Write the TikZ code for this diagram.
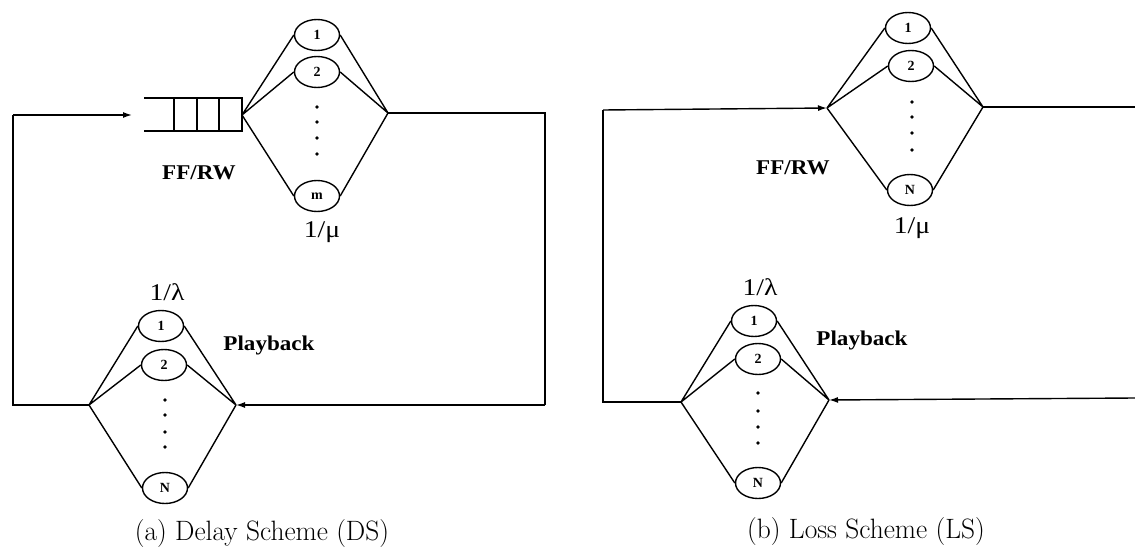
\documentclass[tikz,border=0pt]{standalone}
\usepackage{fontspec}
\usepackage{graphicx}
\setmainfont{Latin Modern Roman}
\newfontfamily\timesfont{Liberation Serif}
\usetikzlibrary{shapes.geometric,arrows.meta}
\begin{document}
\begin{tikzpicture}[x=1pt,y=-1pt,
  line width=1.4pt,
  srv/.style={ellipse,draw,minimum width=45pt,minimum height=31pt,inner sep=0pt,
    font=\timesfont\bfseries\fontsize{14}{14}\selectfont},
  lbl/.style={inner sep=0pt,font=\timesfont\bfseries\fontsize{21}{21}\selectfont},
  rate/.style={inner sep=0pt,font=\timesfont\fontsize{24}{24}\selectfont},
  capt/.style={inner sep=0pt,font=\fontsize{28}{28}\selectfont},
  arr/.style={-{Latex[length=9pt,width=6pt]}},
  dotc/.style={radius=1.8pt}
]
\useasboundingbox (0,0) rectangle (1135,551);

% ================= (a) Delay Scheme =================
% queue
\draw (144,98) -- (242,98) -- (242,131) -- (144,131);
\draw (174,98) -- (174,131) (197,98) -- (197,131) (219,98) -- (219,131);
\coordinate (aq) at (242,115);
\coordinate (ain) at (132,115);
% FF/RW servers
\node[srv] (a1) at (317,35) {1};
\node[srv] (a2) at (317,72) {2};
\node[srv] (am) at (317,196) {m};
\foreach \y in {107,122,138,154} \fill (317,\y) circle[dotc];
\coordinate (aR) at (388,113);
\draw (aq) -- (a1.west) (aq) -- (a2.west) (aq) -- (am.west);
\draw (a1.east) -- (aR) (a2.east) -- (aR) (am.east) -- (aR);
\node[lbl] (affrw) at (199,173) {\scalebox{1.1}[1]{FF/RW}};
\node[rate] (amu) at (322,232) {\scalebox{1.15}[1]{1/μ}};
% playback servers
\node[srv] (p1) at (161,326) {1};
\node[srv] (p2) at (164,365) {2};
\node[srv] (pn) at (165,488) {N};
\foreach \y in {400,415,432,447} \fill (165,\y) circle[dotc];
\coordinate (pL) at (89,405);
\coordinate (pR) at (236,405);
\draw (pL) -- (p1.west) (pL) -- (p2.west) (pL) -- (pn.west);
\draw (p1.east) -- (pR) (p2.east) -- (pR) (pn.east) -- (pR);
\node[rate] (alam) at (167,292) {\scalebox{1.15}[1]{1/λ}};
\node[lbl] (aplay) at (269,345) {\scalebox{1.1}[1]{Playback}};
% loop
\coordinate (aTR) at (545,113);
\coordinate (aBR) at (545,405);
\coordinate (aBL) at (13,405);
\coordinate (aTL) at (13,115);
\draw (aR) -- (aTR) -- (aBR);
\draw[arr] (aBR) -- (pR);
\draw (pL) -- (aBL) -- (aTL);
\draw[arr] (aTL) -- (ain);
\node[capt] (acap) at (262,534) {\scalebox{0.98}[1]{(a) Delay Scheme (DS)}};

% ================= (b) Loss Scheme =================
\node[srv] (b1) at (908,28) {1};
\node[srv] (b2) at (911,66) {2};
\node[srv] (bn) at (910,190) {N};
\foreach \y in {102,117,133,150} \fill (912,\y) circle[dotc];
\coordinate (bL) at (827,108);
\coordinate (bR) at (983,107);
\draw (bL) -- (b1.west) (bL) -- (b2.west) (bL) -- (bn.west);
\draw (b1.east) -- (bR) (b2.east) -- (bR) (bn.east) -- (bR);
\node[lbl] (bffrw) at (793,168) {\scalebox{1.1}[1]{FF/RW}};
\node[rate] (bmu) at (912,228) {\scalebox{1.15}[1]{1/μ}};
% playback
\node[srv] (q1) at (754,321) {1};
\node[srv] (q2) at (758,359) {2};
\node[srv] (qn) at (758,483) {N};
\foreach \y in {393,411,427,443} \fill (758,\y) circle[dotc];
\coordinate (qL) at (681,402);
\coordinate (qR) at (829,400);
\draw (qL) -- (q1.west) (qL) -- (q2.west) (qL) -- (qn.west);
\draw (q1.east) -- (qR) (q2.east) -- (qR) (qn.east) -- (qR);
\node[rate] (blam) at (760,287) {\scalebox{1.15}[1]{1/λ}};
\node[lbl] (bplay) at (862,340) {\scalebox{1.1}[1]{Playback}};
% loop
\coordinate (bTR) at (1135,107);
\coordinate (bBR) at (1135,398);
\coordinate (bBL) at (603,402);
\coordinate (bTL) at (603,110);
\draw (bR) -- (bTR);
\draw[arr] (bBR) -- (qR);
\draw (qL) -- (bBL) -- (bTL);
\draw[arr] (bTL) -- (bL);
\node[capt] (bcap) at (866,532) {\scalebox{0.98}[1]{(b) Loss Scheme (LS)}};
\end{tikzpicture}
\end{document}
